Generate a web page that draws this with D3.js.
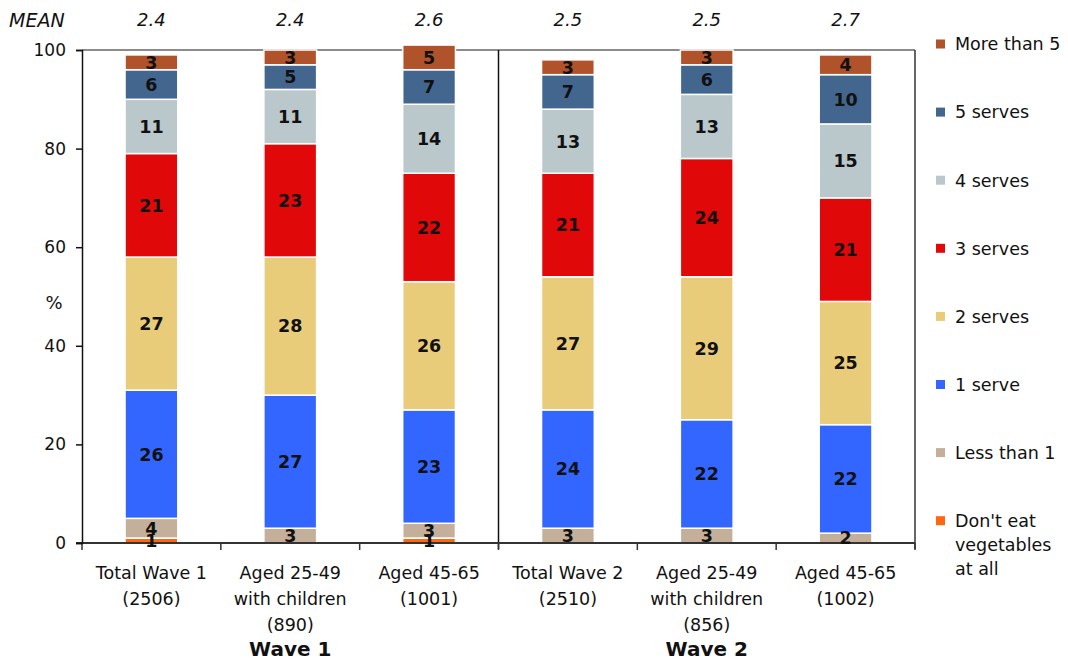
<!DOCTYPE html>
<html>
<head>
<meta charset="utf-8">
<script src="https://cdn.jsdelivr.net/npm/d3@7"></script>
<style>
  html, body { margin: 0; padding: 0; background: #fff; }
  svg { display: block; font-family: "DejaVu Sans", Verdana, sans-serif; }
</style>
</head>
<body>
<svg id="chart" width="1068" height="660"></svg>
<script>
// ---- data ----
const categories = [
  ["Total Wave 1", "(2506)"],
  ["Aged 25-49", "with children", "(890)"],
  ["Aged 45-65", "(1001)"],
  ["Total Wave 2", "(2510)"],
  ["Aged 25-49", "with children", "(856)"],
  ["Aged 45-65", "(1002)"]
];
const groups = ["Wave 1", "Wave 2"];
const means = ["2.4", "2.4", "2.6", "2.5", "2.5", "2.7"];
const seriesNames = ["Don't eat vegetables at all", "Less than 1", "1 serve", "2 serves", "3 serves", "4 serves", "5 serves", "More than 5"];
const dontEat    = [1, 0, 1, 0, 0, 0];
const lessThan1  = [4, 3, 3, 3, 3, 2];
const serve1     = [26, 27, 23, 24, 22, 22];
const serves2    = [27, 28, 26, 27, 29, 25];
const serves3    = [21, 23, 22, 21, 24, 21];
const serves4    = [11, 11, 14, 13, 13, 15];
const serves5    = [6, 5, 7, 7, 6, 10];
const moreThan5  = [3, 3, 5, 3, 3, 4];
const seriesValues = [dontEat, lessThan1, serve1, serves2, serves3, serves4, serves5, moreThan5];
const colors = ["#FF6611", "#C4AF9B", "#3366FF", "#E8CC7A", "#E00808", "#BAC7CB", "#43668F", "#B1532A"];
const yTicks = [0, 20, 40, 60, 80, 100];

// ---- layout ----
const svg = d3.select("#chart");
const L = 82, R = 915, T = 50, B = 543;
const idx = categories.map((d, i) => i);
const x = d3.scaleBand().domain(idx).range([L, R]);
const y = d3.scaleLinear().domain([0, 100]).range([B, T]);
const barW = x.bandwidth() * 0.38;

// table for stacking
const table = idx.map(i => {
  const o = { i };
  seriesNames.forEach((s, k) => o[s] = seriesValues[k][i]);
  return o;
});
const stack = d3.stack().keys(seriesNames)(table);

// frame: top and right (gray)
svg.append("line").attr("x1", L).attr("x2", R).attr("y1", T).attr("y2", T)
  .attr("stroke", "#666").attr("stroke-width", 1.5);
svg.append("line").attr("x1", R).attr("x2", R).attr("y1", T).attr("y2", B + 6)
  .attr("stroke", "#333").attr("stroke-width", 1.5);

// wave divider
svg.append("line").attr("x1", x(3)).attr("x2", x(3)).attr("y1", T).attr("y2", B + 6)
  .attr("stroke", "#111").attr("stroke-width", 1.5);

// bars
const layers = svg.append("g").selectAll("g").data(stack).join("g")
  .attr("fill", (d, k) => colors[k]);
layers.selectAll("rect").data(d => d.filter(p => p[1] - p[0] > 0)).join("rect")
  .attr("x", p => x(p.data.i) + (x.bandwidth() - barW) / 2)
  .attr("width", barW)
  .attr("y", p => y(p[1]))
  .attr("height", p => y(p[0]) - y(p[1]))
  .attr("stroke", "#fff").attr("stroke-width", 1.5);

// x axis line
svg.append("line").attr("x1", L - 6).attr("x2", R).attr("y1", B).attr("y2", B)
  .attr("stroke", "#333").attr("stroke-width", 2);
// x ticks at band boundaries
const bounds = idx.map(i => x(i)).concat([R]);
svg.append("g").selectAll("line").data(bounds).join("line")
  .attr("x1", d => d).attr("x2", d => d).attr("y1", B).attr("y2", B + 7)
  .attr("stroke", "#333").attr("stroke-width", 1.5);

// y axis
const yAxis = d3.axisLeft(y).tickValues(yTicks).tickSize(6).tickPadding(10).tickFormat(d3.format("d"));
const gy = svg.append("g").attr("transform", `translate(${L},0)`).call(yAxis);
gy.select(".domain").attr("stroke", "#111").attr("stroke-width", 1.5);
gy.selectAll(".tick line").attr("stroke", "#111").attr("stroke-width", 1.5);
gy.selectAll(".tick text").attr("font-size", 17).attr("fill", "#111")
  .attr("font-family", "DejaVu Sans, Verdana, sans-serif");

// segment labels
const labels = svg.append("g").attr("font-size", 17.5).attr("font-weight", "bold")
  .attr("text-anchor", "middle").attr("fill", "#111");
stack.forEach(layer => {
  layer.forEach(p => {
    const v = p[1] - p[0];
    if (v <= 0) return;
    labels.append("text")
      .attr("x", x(p.data.i) + x.bandwidth() / 2)
      .attr("y", y((p[0] + p[1]) / 2))
      .attr("dy", "0.36em")
      .text(v);
  });
});

// category labels
const cat = svg.append("g").attr("font-size", 17.5).attr("text-anchor", "middle").attr("fill", "#111");
categories.forEach((lines, i) => {
  lines.forEach((ln, j) => {
    cat.append("text").attr("x", x(i) + x.bandwidth() / 2).attr("y", 573 + j * 26)
      .attr("dy", "0.36em").text(ln);
  });
});

// group labels
groups.forEach((g, k) => {
  svg.append("text").attr("x", x(k * 3 + 1) + x.bandwidth() / 2).attr("y", 649)
    .attr("dy", "0.36em").attr("text-anchor", "middle")
    .attr("font-size", 20).attr("font-weight", "bold").attr("fill", "#111").text(g);
});

// means
svg.append("text").attr("x", 9).attr("y", 20).attr("dy", "0.36em")
  .attr("font-size", 19).attr("font-style", "italic").attr("fill", "#111").text("MEAN");
svg.append("g").selectAll("text").data(means).join("text")
  .attr("x", (d, i) => x(i) + x.bandwidth() / 2).attr("y", 20).attr("dy", "0.36em")
  .attr("text-anchor", "middle").attr("font-size", 18).attr("font-style", "italic")
  .attr("fill", "#111").text(d => d);

// % label
svg.append("text").attr("x", 54).attr("y", 303).attr("dy", "0.36em")
  .attr("text-anchor", "middle").attr("font-size", 18).attr("fill", "#111").text("%");

// legend (reverse order)
const legendItems = seriesNames.map((s, k) => ({ s, c: colors[k] })).reverse();
const legendLines = {
  "Don't eat vegetables at all": ["Don't eat", "vegetables", "at all"]
};
const lg = svg.append("g");
legendItems.forEach((d, j) => {
  const cy = 44 + j * 68.1;
  lg.append("rect").attr("x", 936).attr("y", cy - 4.5).attr("width", 9).attr("height", 9).attr("fill", d.c);
  const lines = legendLines[d.s] || [d.s];
  lines.forEach((ln, m) => {
    lg.append("text").attr("x", 955).attr("y", cy + m * 24).attr("dy", "0.36em")
      .attr("font-size", 17.5).attr("fill", "#111").text(ln);
  });
});
</script>
</body>
</html>
